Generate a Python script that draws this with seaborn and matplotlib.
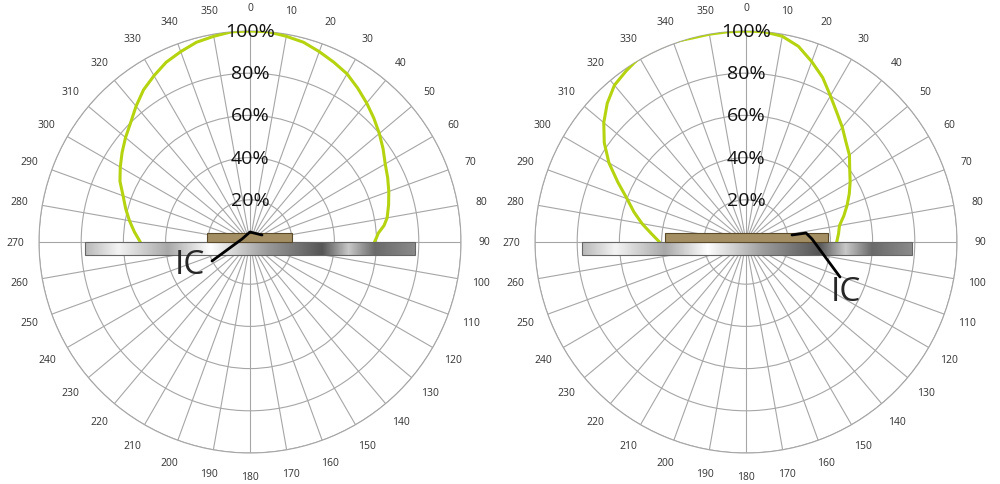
import numpy as np
import pandas as pd
import matplotlib
matplotlib.use("Agg")
import matplotlib.pyplot as plt
import seaborn as sns
from matplotlib.colors import LinearSegmentedColormap

sns.set_theme(style="white")
plt.rcParams['font.family'] = ['Open Sans', 'DejaVu Sans']

angles_left = [270, 275, 280, 285, 290, 295, 300, 305, 310, 315, 320, 325, 330, 335, 340, 345, 350, 355,
               360, 365, 370, 375, 380, 385, 390, 395, 400, 405, 410, 415, 420, 425, 430, 435, 440, 443, 446, 448, 450]
r_left = [52, 55, 58, 61, 64, 68, 71, 74, 77, 80, 84, 88, 91, 94, 96, 98, 99, 100,
          100, 100, 99, 98, 96, 94, 92, 89, 86, 83, 80, 77, 74, 72, 70, 68, 66, 64, 61, 60, 59]
angles_right = [270, 275, 280, 285, 290, 295, 300, 305, 310, 315, 320, 325, 330, 335, 340, 345, 350, 355,
                360, 365, 370, 375, 380, 385, 390, 395, 400, 405, 410, 415, 420, 425, 430, 435, 440, 445, 450]
r_right = [41, 45, 50, 55, 60, 67, 75, 82, 88, 93, 97, 99, 101, 101, 101, 100, 100, 100,
           100, 100, 99, 96, 91, 86, 80, 75, 71, 67, 64, 60, 57, 54, 51, 48, 45, 44, 43]
ring_values = [20, 40, 60, 80, 100]
ring_labels = ["20%", "40%", "60%", "80%", "100%"]
theta_ticks = list(range(0, 360, 10))
theta_labels = [str(t) for t in theta_ticks]
label_text = "IC"

W, H = 1000, 485
fig = plt.figure(figsize=(10, 4.85), dpi=100)
R = 211
curve_color = "#b5d40f"

def make_polar(cx, cy, angles, rs):
    ax = fig.add_axes([(cx - R) / W, (H - cy - R) / H, 2 * R / W, 2 * R / H], projection="polar")
    ax.set_theta_zero_location("N")
    ax.set_theta_direction(-1)
    ax.set_ylim(0, 100)
    ax.set_thetagrids(theta_ticks, theta_labels, fontsize=7.5, color="#333333")
    ax.tick_params(axis="x", pad=4)
    ax.set_rgrids(ring_values, [""] * len(ring_values))
    ax.grid(True, color="#a6a6a6", linewidth=0.8)
    ax.spines["polar"].set_color("#a6a6a6")
    ax.spines["polar"].set_linewidth(0.8)
    ax.set_facecolor("white")
    df = pd.DataFrame({"theta": np.deg2rad(angles), "r": rs})
    sns.lineplot(data=df, x="theta", y="r", sort=False, ax=ax, color=curve_color, linewidth=2.2, zorder=5)
    ax.set_xlabel(""); ax.set_ylabel("")
    for v, lab in zip(ring_values, ring_labels):
        ax.text(0, v, lab, ha="center", va="center", fontsize=14, color="#111111", zorder=6)
    return ax

make_polar(250, 243, angles_left, r_left)
make_polar(746, 243, angles_right, r_right)

ov = fig.add_axes([0, 0, 1, 1])
ov.set_xlim(0, W); ov.set_ylim(H, 0); ov.axis("off")
ov.patch.set_alpha(0)

metal = LinearSegmentedColormap.from_list("metal", [
    (0.0, "#b8b8b8"), (0.1, "#f4f4f4"), (0.25, "#a8a8a8"), (0.38, "#ffffff"),
    (0.55, "#9c9c9c"), (0.72, "#555555"), (0.8, "#c8c8c8"), (0.88, "#6a6a6a"), (1.0, "#8a8a8a")])
grad = np.linspace(0, 1, 256).reshape(1, -1)

def board(x0, x1, cx0, cx1):
    ov.imshow(grad, cmap=metal, extent=[x0, x1, 256, 243], aspect="auto", zorder=3)
    ov.add_patch(plt.Rectangle((x0, 243), x1 - x0, 13, fill=False, ec="#666666", lw=0.8, zorder=4))
    ov.add_patch(plt.Rectangle((cx0, 234), cx1 - cx0, 9, fc="#a38f63", ec="#5a4a2a", lw=0.8, zorder=4))

board(85, 415, 207, 292)
board(582, 912, 665, 828)

ov.plot([262, 250, 242, 212], [236, 233, 240, 262], color="black", lw=2, zorder=6)
ov.text(190, 266, label_text, fontsize=24, ha="center", va="center", zorder=6)
ov.plot([792, 806, 812, 840], [236, 234, 240, 278], color="black", lw=2, zorder=6)
ov.text(846, 293, label_text, fontsize=24, ha="center", va="center", zorder=6)

fig.savefig("out.png", dpi=100, facecolor="white")
